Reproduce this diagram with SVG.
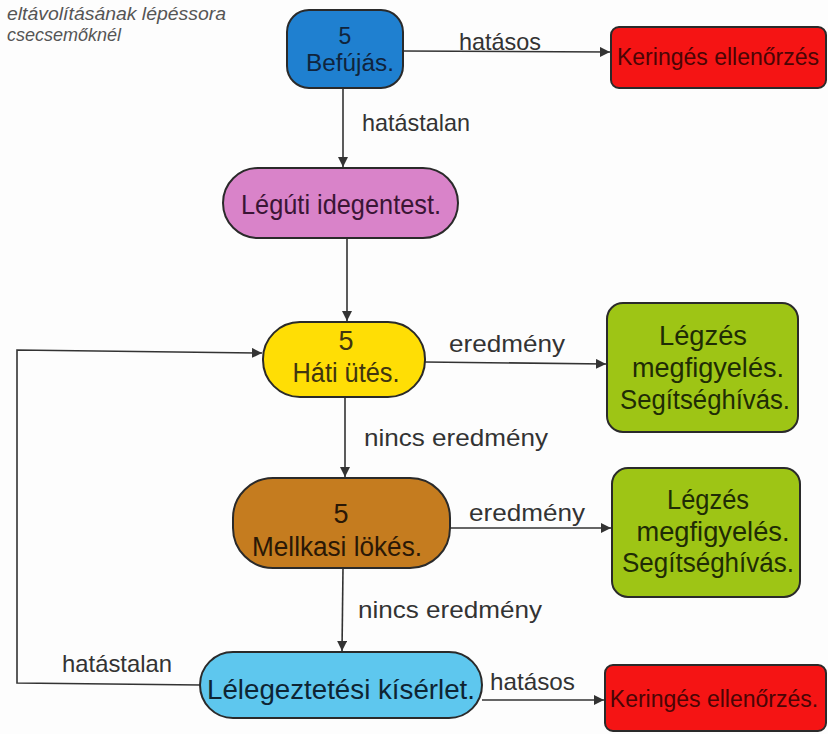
<svg xmlns="http://www.w3.org/2000/svg" width="828" height="734" viewBox="0 0 828 734">
<defs>
<marker id="ah" viewBox="0 0 10 10" refX="10" refY="5" markerWidth="10" markerHeight="10" markerUnits="userSpaceOnUse" orient="auto">
<path d="M0,0 L10,5 L0,10 z" fill="#333"/>
</marker>
</defs>
<style>
text{font-family:"Liberation Sans",Arial,sans-serif;}
.node{stroke:#2a2a2a;stroke-width:2;}
.nt{font-size:27px;text-anchor:middle;}
.sm{font-size:22px;}
.red{font-size:23px;}
.lbl{font-size:24px;fill:#333;}
.conn path{fill:none;stroke:#333;stroke-width:1.6;}
.title{font-size:18px;font-style:italic;fill:#555;}
</style>
<rect width="828" height="734" fill="#fdfdfd"/>
<g id="title">
<text class="title" x="7" y="20" textLength="219" lengthAdjust="spacingAndGlyphs">eltávolításának lépéssora</text>
<text class="title" x="7" y="41">csecsemőknél</text>
</g>
<g class="conn" id="connectors">
<path d="M403,51 L610,52" marker-end="url(#ah)"/>
<path d="M343,88 L343,167" marker-end="url(#ah)"/>
<path d="M347,238 L347,321" marker-end="url(#ah)"/>
<path d="M425,362 L606,364" marker-end="url(#ah)"/>
<path d="M345,397 L345,477" marker-end="url(#ah)"/>
<path d="M450,528 L611,528" marker-end="url(#ah)"/>
<path d="M343,568 L342,651" marker-end="url(#ah)"/>
<path d="M482,700 L604,700" marker-end="url(#ah)"/>
<path d="M201,685 L17,683 L17,350 L262,353" marker-end="url(#ah)"/>
<text class="lbl" x="459" y="50" textLength="82" lengthAdjust="spacingAndGlyphs">hatásos</text>
<text class="lbl" x="362" y="131" textLength="108" lengthAdjust="spacingAndGlyphs">hatástalan</text>
<text class="lbl" x="449" y="352" textLength="116" lengthAdjust="spacingAndGlyphs">eredmény</text>
<text class="lbl" x="364" y="446" textLength="184" lengthAdjust="spacingAndGlyphs">nincs eredmény</text>
<text class="lbl" x="469" y="521" textLength="116" lengthAdjust="spacingAndGlyphs">eredmény</text>
<text class="lbl" x="358" y="618" textLength="184" lengthAdjust="spacingAndGlyphs">nincs eredmény</text>
<text class="lbl" x="62" y="672" textLength="110" lengthAdjust="spacingAndGlyphs">hatástalan</text>
<text class="lbl" x="490" y="690" textLength="85" lengthAdjust="spacingAndGlyphs">hatásos</text>
</g>
<g id="befujas">
<rect class="node" x="287" y="10" width="116" height="78" rx="22" fill="#1f80d0"/>
<text class="nt sm" x="345" y="44" fill="#10243c" style="font-size:23px">5</text>
<text class="nt sm" x="350" y="71" fill="#10243c" style="font-size:23px" textLength="88" lengthAdjust="spacingAndGlyphs">Befújás.</text>
</g>
<g id="keringes1">
<rect class="node" x="611" y="27" width="215" height="61" rx="8" fill="#f51414" stroke="#5a1010"/>
<text class="nt" x="718" y="65" fill="#4a0505" style="font-size:23px">Keringés ellenőrzés</text>
</g>
<g id="leguti">
<rect class="node" x="223" y="168" width="235" height="70" rx="35" fill="#d983c9"/>
<text class="nt" x="341" y="214" fill="#3a1535" style="font-size:28px" textLength="200" lengthAdjust="spacingAndGlyphs">Légúti idegentest.</text>
</g>
<g id="hati">
<rect class="node" x="263" y="322" width="162" height="75" rx="37" fill="#ffde05"/>
<text class="nt" x="346" y="350" fill="#403510">5</text>
<text class="nt" x="346" y="382" fill="#403510" textLength="107" lengthAdjust="spacingAndGlyphs">Háti ütés.</text>
</g>
<g id="legzes1">
<rect class="node" x="607" y="303" width="191" height="129" rx="16" fill="#9ec515"/>
<text class="nt" x="703" y="345" fill="#1f2c05" textLength="88" lengthAdjust="spacingAndGlyphs">Légzés</text>
<text class="nt" x="708" y="377" fill="#1f2c05" textLength="152" lengthAdjust="spacingAndGlyphs">megfigyelés.</text>
<text class="nt" x="705" y="409" fill="#1f2c05" textLength="170" lengthAdjust="spacingAndGlyphs">Segítséghívás.</text>
</g>
<g id="mellkasi">
<rect class="node" x="233" y="478" width="217" height="90" rx="40" fill="#c57c1f"/>
<text class="nt" x="341" y="523" fill="#2a1806">5</text>
<text class="nt" x="337" y="556" fill="#2a1806" textLength="170" lengthAdjust="spacingAndGlyphs">Mellkasi lökés.</text>
</g>
<g id="legzes2">
<rect class="node" x="612" y="468" width="188" height="129" rx="16" fill="#9ec515"/>
<text class="nt" x="708" y="509" fill="#1f2c05" textLength="82" lengthAdjust="spacingAndGlyphs">Légzés</text>
<text class="nt" x="713" y="541" fill="#1f2c05" textLength="153" lengthAdjust="spacingAndGlyphs">megfigyelés.</text>
<text class="nt" x="708" y="572" fill="#1f2c05" textLength="172" lengthAdjust="spacingAndGlyphs">Segítséghívás.</text>
</g>
<g id="lelegeztetesi">
<rect class="node" x="200" y="652" width="282" height="66" rx="33" fill="#5ec7ee"/>
<text class="nt" x="341" y="699" fill="#0e2433" textLength="268" lengthAdjust="spacingAndGlyphs">Lélegeztetési kísérlet.</text>
</g>
<g id="keringes2">
<rect class="node" x="605" y="665" width="221" height="66" rx="8" fill="#f51414" stroke="#5a1010"/>
<text class="nt" x="714" y="707" fill="#4a0505" style="font-size:23px">Keringés ellenőrzés.</text>
</g>
</svg>
